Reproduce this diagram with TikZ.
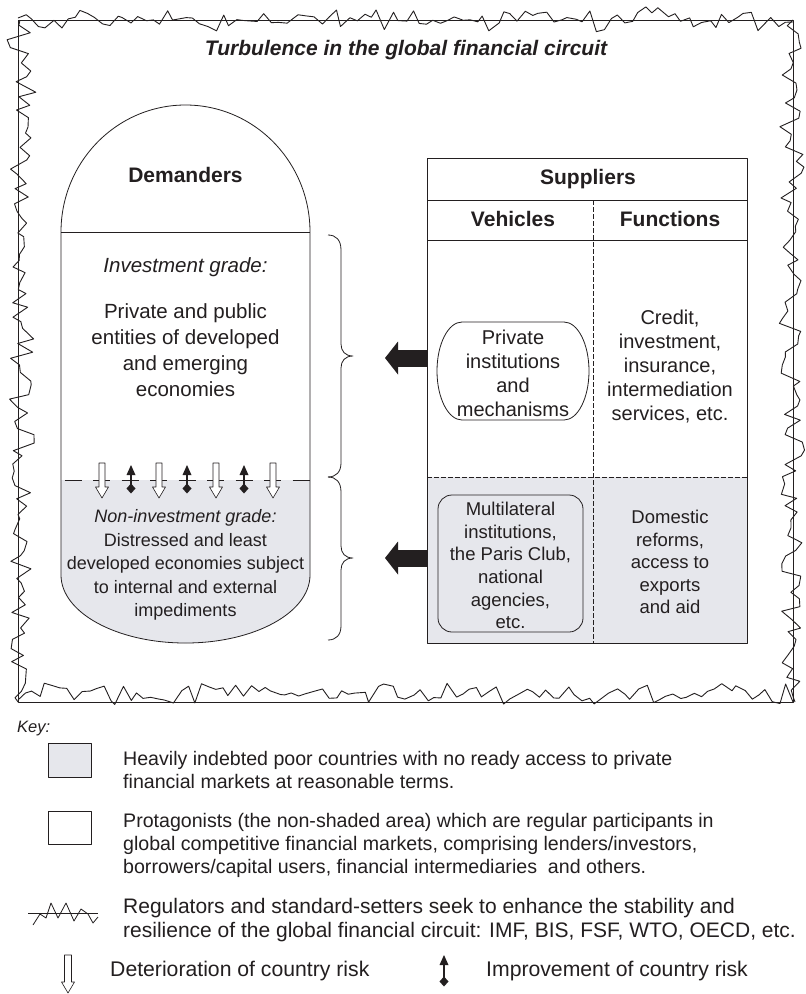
\documentclass[tikz,border=0pt]{standalone}
\usepackage{fontspec}
\setmainfont{Liberation Sans}
\usetikzlibrary{arrows.meta}
\definecolor{greyfill}{RGB}{230,231,236}
\definecolor{ink}{RGB}{35,31,32}
\begin{document}
\begin{tikzpicture}[x=1pt,y=-1pt,line join=round,
  every node/.style={text=ink,inner sep=0pt,align=center},
  ttl/.style={font=\fontsize{21}{25}\selectfont\bfseries\itshape},
  hdr/.style={font=\fontsize{21}{25}\selectfont\bfseries},
  bigtxt/.style={font=\fontsize{20.5}{26}\selectfont},
  lowtxt/.style={font=\fontsize{18}{23.5}\selectfont},
  ftxt/.style={font=\fontsize{20}{24}\selectfont},
  ftxtb/.style={font=\fontsize{18.5}{22.6}\selectfont},
  keytxt/.style={font=\fontsize{19.6}{23}\selectfont,align=left,anchor=west},
  keybig/.style={font=\fontsize{21}{23.5}\selectfont,align=left,anchor=west},
  jag/.style={draw=ink,line width=0.9pt},
  frm/.style={draw=ink,line width=1pt},
  outl/.style={draw=ink,line width=0.8pt},
  fdash/.style={draw=ink,line width=1pt,dash pattern=on 4.5pt off 2.5pt},
  bigarrow/.style={draw=ink,line width=17pt,-{Triangle[length=13pt,width=33pt,line width=0pt]}},
  openarrow/.style={draw=ink,fill=white,line width=0.6pt},
  bracepath/.style={draw=ink,line width=0.8pt},
]
\useasboundingbox (0,0) rectangle (806,994);
\fill[white] (0,0) rectangle (806,994);

% ---------- frame with jagged borders ----------
\draw[frm] (18,20) rectangle (793,702);
\pgfmathsetseed{271}
\draw[jag] (18,18) \foreach \i in {1,...,109}{ -- ({18+7.05*\i+2*rand},{19+(5+8*abs(sin(\i*23)))*rand}) } -- (793,22);
\draw[jag] (20,20) \foreach \i in {1,...,96}{ -- ({22+(6+9*abs(sin(\i*29)))*rand},{20+7.05*\i+2*rand}) } -- (18,702);
\draw[jag] (793,20) \foreach \i in {1,...,96}{ -- ({792+(5+8*abs(sin(\i*31)))*rand},{20+7.05*\i+2*rand}) } -- (795,702);
\draw[jag] (18,700) \foreach \i in {1,...,109}{ -- ({18+7.05*\i+2*rand},{694+(5+8*abs(sin(\i*19)))*rand}) } -- (793,702);

\node[ttl] (title) at (406,50) {Turbulence in the global financial circuit};

% ---------- demanders ----------
\begin{scope}
\clip (61,232) .. controls (61,161.9) and (116.7,105) .. (185.5,105) .. controls (254.3,105) and (310,161.9) .. (310,232) -- (310,575) .. controls (310,612.6) and (254.3,643) .. (185.5,643) .. controls (116.7,643) and (61,612.6) .. (61,575) -- cycle;
\fill[white] (50,100) rectangle (320,480);
\fill[greyfill] (50,480) rectangle (320,650);
\end{scope}
\draw[outl] (61,232) .. controls (61,161.9) and (116.7,105) .. (185.5,105) .. controls (254.3,105) and (310,161.9) .. (310,232) -- (310,575) .. controls (310,612.6) and (254.3,643) .. (185.5,643) .. controls (116.7,643) and (61,612.6) .. (61,575) -- cycle;
\draw[outl] (61,232) -- (310,232);
\draw[ink,line width=1pt,dash pattern=on 17pt off 11.5pt,dash phase=25pt] (61,480) -- (310,480);

\node[hdr] (dem) at (185.5,175) {Demanders};
\node[font=\fontsize{20.5}{26}\selectfont\itshape] (ig) at (185.5,267) {Investment grade:};
\node[bigtxt] (igtxt) at (185.5,350) {Private and public\\entities of developed\\and emerging\\economies};
\node[lowtxt] (nig) at (185.5,565) {\textit{Non-investment grade:}\\Distressed and least\\developed economies subject\\to internal and external\\impediments};

\foreach \x in {102,159,216,273}{
  \draw[openarrow] ({\x-3},463) -- ({\x+3},463) -- ({\x+3},487) -- ({\x+6.5},487) -- (\x,498) -- ({\x-6.5},487) -- ({\x-3},487) -- cycle;
}
\foreach \x in {131,187,244}{
  \draw[ink,line width=1.3pt] (\x,488) -- (\x,472);
  \fill[ink] (\x,465) -- ({\x+4.5},475) -- ({\x-4.5},475) -- cycle;
  \fill[ink] (\x,483.5) -- ({\x+4.5},488.5) -- (\x,493.5) -- ({\x-4.5},488.5) -- cycle;
}

% ---------- braces ----------
\coordinate (br1) at (353,356);
\coordinate (br2) at (353,558);
\draw[bracepath] (328,235) .. controls (336,235) and (341,240) .. (341,250) -- (341,344) .. controls (341,351) and (345,356) .. (br1) .. controls (345,356) and (341,361) .. (341,368) -- (341,463) .. controls (341,472) and (336,477) .. (328,477);
\draw[bracepath] (328,477) .. controls (336,477) and (341,482) .. (341,492) -- (341,546) .. controls (341,553) and (345,558) .. (br2) .. controls (345,558) and (341,563) .. (341,570) -- (341,626) .. controls (341,635) and (336,640) .. (328,640);

% ---------- suppliers ----------
\fill[white] (427,158) rectangle (747,477);
\fill[greyfill] (427,477) rectangle (747,643);
\draw[outl] (427,158) rectangle (747,643);
\draw[outl] (427,200) -- (747,200);
\draw[outl] (427,240) -- (747,240);
\draw[fdash] (593,200) -- (593,643);
\draw[fdash] (427,477) -- (747,477);

\node[hdr] (sup) at (588,179) {Suppliers};
\node[hdr] (veh) at (513,219) {Vehicles};
\node[hdr] (fun) at (670,219) {Functions};

\draw[outl] (462,322) -- (564,322) .. controls (577.8,322) and (589,344) .. (589,371) .. controls (589,398) and (577.8,420) .. (564,420) -- (462,420) .. controls (448.2,420) and (437,398) .. (437,371) .. controls (437,344) and (448.2,322) .. (462,322) -- cycle;
\node[ftxt] (priv) at (513,373) {Private\\institutions\\and\\mechanisms};
\node[ftxt] (cred) at (670,367) {Credit,\\investment,\\insurance,\\intermediation\\services, etc.};

\draw[outl,fill=greyfill,rounded corners=14pt] (438,495) rectangle (583,632);
\node[ftxtb] (mult) at (510.5,565.5) {Multilateral\\institutions,\\the Paris Club,\\national\\agencies,\\etc.};
\node[ftxtb] (dom) at (670,562) {Domestic\\reforms,\\access to\\exports\\and aid};

\coordinate (t1) at (427,358);
\coordinate (h1) at (385,358);
\coordinate (t2) at (427,558);
\coordinate (h2) at (385,558);
\draw[bigarrow] (t1) -- (h1);
\draw[bigarrow] (t2) -- (h2);

% ---------- key ----------
\node[font=\fontsize{16.5}{20}\selectfont\itshape,anchor=west] (key) at (17,729) {Key:};
\draw[outl,fill=greyfill] (48,743) rectangle (91,777);
\node[keytxt] (k1) at (123,769.5) {Heavily indebted poor countries with no ready access to private\\financial markets at reasonable terms.};
\draw[outl,fill=white] (48,811) rectangle (91,844);
\node[keytxt] (k2) at (123,845) {Protagonists (the non-shaded area) which are regular participants in\\global competitive financial markets, comprising lenders/investors,\\borrowers/capital users, financial intermediaries\ \ and others.};
\draw[outl] (28,913) -- (98,913);
\draw[outl] (33,925) -- (40,914) -- (46,918) -- (51,903) -- (58,918) -- (66,903) -- (74,921) -- (81,909) -- (88,914) -- (93,923) -- (98,917);
\node[keybig] (k3) at (123,920) {Regulators and standard-setters seek to enhance the stability and\\{\fontsize{21}{23.5}\selectfont resilience of the global financial circuit: IMF, BIS, FSF, WTO, OECD, etc.}};
\draw[openarrow] (64.5,955) -- (71.5,955) -- (71.5,982) -- (74.5,982) -- (68,993) -- (61.5,982) -- (64.5,982) -- cycle;
\node[keybig,font=\fontsize{21.2}{24}\selectfont] (k4) at (110,971) {Deterioration of country risk};
\draw[ink,line width=1.3pt] (444,980) -- (444,962);
\fill[ink] (444,955) -- (448.5,965) -- (439.5,965) -- cycle;
\fill[ink] (444,976.5) -- (448.5,981.5) -- (444,986.5) -- (439.5,981.5) -- cycle;
\node[keybig,font=\fontsize{21.2}{24}\selectfont] (k5) at (486,971) {Improvement of country risk};
\end{tikzpicture}
\end{document}
